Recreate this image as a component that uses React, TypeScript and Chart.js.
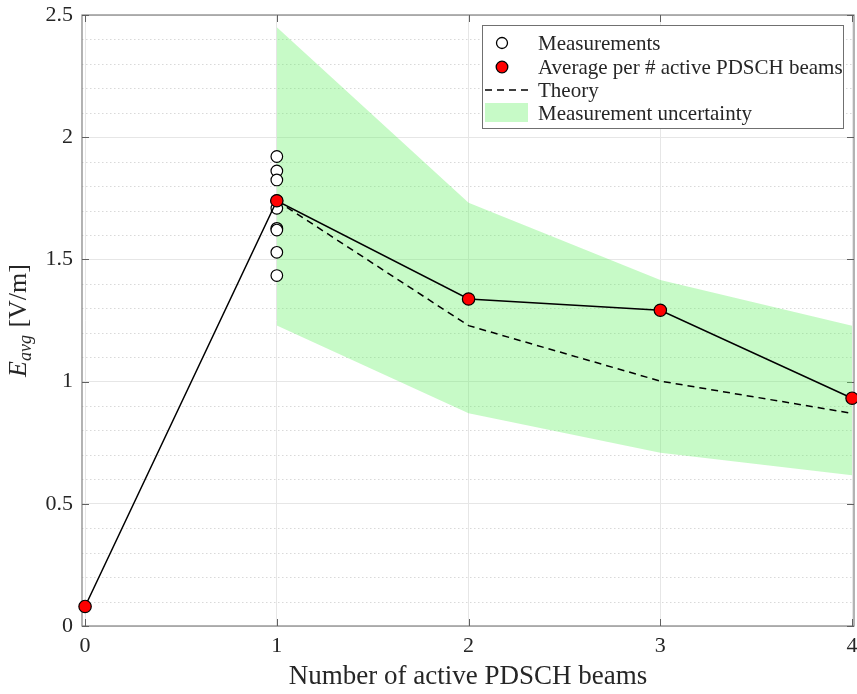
import React, { useEffect, useRef } from 'react';
import { Chart, registerables } from 'chart.js';

Chart.register(...registerables);

// ---- data ----
const beams = [0, 1, 2, 3, 4];
const avgY = [0.08, 1.74, 1.338, 1.292, 0.932];
const measX = [1, 1, 1, 1, 1, 1, 1, 1, 1];
const measY = [1.921, 1.862, 1.825, 1.74, 1.709, 1.627, 1.62, 1.529, 1.434];
const theoryX = [1, 2, 3, 4];
const theoryY = [1.74, 1.229, 1.002, 0.87];
const bandX = [1, 2, 3, 4];
const bandUpper = [2.45, 1.732, 1.416, 1.229];
const bandLower = [1.23, 0.871, 0.709, 0.617];
const xTicks = [0, 1, 2, 3, 4];
const yTicks = [0, 0.5, 1, 1.5, 2, 2.5];
const legendLabels = [
  'Measurements',
  'Average per # active PDSCH beams',
  'Theory',
  'Measurement uncertainty',
];
const xTitle = 'Number of active PDSCH beams';

const FONT = "'Liberation Serif', 'Times New Roman', serif";
const TEXT = '#262626';
const BAND = 'rgba(100,240,100,0.36)';

const decor = {
  id: 'decor',
  beforeDatasetsDraw(chart: any) {
    const { ctx, chartArea: a, scales } = chart;
    const x = scales.x;
    const y = scales.y;
    ctx.save();
    // minor dotted grid lines
    ctx.strokeStyle = '#d9d9d9';
    ctx.lineWidth = 1;
    ctx.setLineDash([1.5, 2.5]);
    for (let i = 1; i < 25; i++) {
      if (i % 5 === 0) continue;
      const py = Math.round(y.getPixelForValue(i / 10)) + 0.5;
      ctx.beginPath();
      ctx.moveTo(a.left, py);
      ctx.lineTo(a.right, py);
      ctx.stroke();
    }
    ctx.setLineDash([]);
    // axes box
    ctx.strokeStyle = '#808080';
    ctx.lineWidth = 1.2;
    ctx.strokeRect(a.left, a.top, a.right - a.left, a.bottom - a.top);
    // inward ticks
    ctx.strokeStyle = '#606060';
    ctx.lineWidth = 1;
    xTicks.forEach((v) => {
      const px = Math.round(x.getPixelForValue(v)) + 0.5;
      ctx.beginPath();
      ctx.moveTo(px, a.bottom);
      ctx.lineTo(px, a.bottom - 7);
      ctx.moveTo(px, a.top);
      ctx.lineTo(px, a.top + 7);
      ctx.stroke();
    });
    yTicks.forEach((v) => {
      const py = Math.round(y.getPixelForValue(v)) + 0.5;
      ctx.beginPath();
      ctx.moveTo(a.left, py);
      ctx.lineTo(a.left + 7, py);
      ctx.moveTo(a.right, py);
      ctx.lineTo(a.right - 7, py);
      ctx.stroke();
    });
    // x tick labels
    ctx.fillStyle = TEXT;
    ctx.font = `22px ${FONT}`;
    ctx.textAlign = 'center';
    ctx.textBaseline = 'top';
    xTicks.forEach((v) => {
      ctx.fillText(String(v), x.getPixelForValue(v), a.bottom + 9);
    });
    ctx.restore();
  },
  afterDraw(chart: any) {
    const { ctx, chartArea: a } = chart;
    ctx.save();
    // ---- legend ----
    const L = a.right - 11;
    const bx = 482;
    const by = a.top + 10;
    const bw = L - bx;
    const bh = 103;
    ctx.fillStyle = '#ffffff';
    ctx.fillRect(bx, by, bw, bh);
    ctx.strokeStyle = '#707070';
    ctx.lineWidth = 1;
    ctx.strokeRect(bx + 0.5, by + 0.5, bw, bh);
    const rows = [by + 18, by + 42, by + 65, by + 88];
    const mx = bx + 20;
    // measurements marker
    ctx.beginPath();
    ctx.arc(mx, rows[0], 5.5, 0, Math.PI * 2);
    ctx.fillStyle = '#fff';
    ctx.fill();
    ctx.strokeStyle = '#000';
    ctx.lineWidth = 1.3;
    ctx.stroke();
    // average marker
    ctx.beginPath();
    ctx.arc(mx, rows[1], 5.8, 0, Math.PI * 2);
    ctx.fillStyle = '#ff0000';
    ctx.fill();
    ctx.stroke();
    // theory dash
    ctx.setLineDash([7, 5]);
    ctx.lineWidth = 1.5;
    ctx.beginPath();
    ctx.moveTo(bx + 3, rows[2]);
    ctx.lineTo(bx + 51, rows[2]);
    ctx.stroke();
    ctx.setLineDash([]);
    // band patch
    ctx.fillStyle = BAND;
    ctx.fillRect(bx + 3, rows[3] - 10, 43, 19);
    ctx.fillStyle = TEXT;
    ctx.font = `21px ${FONT}`;
    ctx.textBaseline = 'middle';
    ctx.textAlign = 'left';
    legendLabels.forEach((t, i) => ctx.fillText(t, bx + 56, rows[i] + 1));

    // ---- x title ----
    ctx.font = `27px ${FONT}`;
    ctx.textAlign = 'center';
    ctx.textBaseline = 'middle';
    ctx.fillText(xTitle, (a.left + a.right) / 2, 677);

    // ---- y title ----
    ctx.translate(17, (a.top + a.bottom) / 2);
    ctx.rotate(-Math.PI / 2);
    ctx.textAlign = 'left';
    ctx.textBaseline = 'alphabetic';
    const fE = `italic 26px ${FONT}`;
    const fSub = `italic 18px ${FONT}`;
    const fR = `26px ${FONT}`;
    ctx.font = fE;
    const wE = ctx.measureText('E').width;
    ctx.font = fSub;
    const wS = ctx.measureText('avg').width;
    ctx.font = fR;
    const rest = ' [V/m]';
    const wR = ctx.measureText(rest).width;
    const total = wE + wS + 1 + wR;
    let cx = -total / 2;
    const base = 9;
    ctx.font = fE;
    ctx.fillText('E', cx, base);
    cx += wE;
    ctx.font = fSub;
    ctx.fillText('avg', cx, base + 5);
    cx += wS + 1;
    ctx.font = fR;
    ctx.fillText(rest, cx, base);
    ctx.restore();
  },
};

export default function App() {
  const ref = useRef<HTMLCanvasElement>(null);
  useEffect(() => {
    if (!ref.current) return;
    const chart = new Chart(ref.current, {
      type: 'scatter',
      data: {
        datasets: [
          {
            label: 'Average per # active PDSCH beams',
            data: beams.map((b, i) => ({ x: b, y: avgY[i] })),
            showLine: true,
            borderColor: '#000',
            borderWidth: 1.5,
            pointBackgroundColor: '#ff0000',
            pointBorderColor: '#000',
            pointBorderWidth: 1.2,
            pointRadius: 6.2,
            clip: false,
          },
          {
            label: 'Theory',
            data: theoryX.map((b, i) => ({ x: b, y: theoryY[i] })),
            showLine: true,
            borderColor: '#000',
            borderWidth: 1.5,
            borderDash: [7, 5],
            pointRadius: 0,
          },
          {
            label: 'Measurements',
            data: measX.map((b, i) => ({ x: b, y: measY[i] })),
            showLine: false,
            pointBackgroundColor: '#ffffff',
            pointBorderColor: '#000',
            pointBorderWidth: 1.2,
            pointRadius: 5.8,
            clip: false,
          },
          {
            label: 'lower',
            data: bandX.map((b, i) => ({ x: b, y: bandLower[i] })),
            showLine: true,
            borderColor: 'transparent',
            pointRadius: 0,
            fill: false,
          },
          {
            label: 'Measurement uncertainty',
            data: bandX.map((b, i) => ({ x: b, y: bandUpper[i] })),
            showLine: true,
            borderColor: 'transparent',
            backgroundColor: BAND,
            pointRadius: 0,
            fill: '-1',
          },
        ],
      },
      options: {
        animation: false,
        responsive: false,
        maintainAspectRatio: false,
        layout: { autoPadding: false, padding: { top: 15, right: 3, left: 0, bottom: 0 } },
        plugins: {
          legend: { display: false },
          tooltip: { enabled: false },
        },
        scales: {
          x: {
            type: 'linear',
            min: -0.016,
            max: 4.01,
            afterBuildTicks: (s: any) => {
              s.ticks = xTicks.map((v) => ({ value: v }));
            },
            afterFit: (s: any) => {
              s.height = 68;
            },
            grid: { color: '#e6e6e6', drawTicks: false, lineWidth: 1 },
            border: { display: false },
            ticks: { display: false },
          },
          y: {
            type: 'linear',
            min: 0,
            max: 2.5,
            afterBuildTicks: (s: any) => {
              s.ticks = yTicks.map((v) => ({ value: v }));
            },
            afterFit: (s: any) => {
              s.width = 82;
              s.paddingTop = 0;
              s.paddingBottom = 0;
            },
            grid: { color: '#e6e6e6', drawTicks: false, lineWidth: 1 },
            border: { display: false },
            ticks: {
              padding: 9,
              color: TEXT,
              font: { family: FONT, size: 22 },
              callback: (v: any) => String(v),
            },
          },
        },
      },
      plugins: [decor],
    });
    return () => chart.destroy();
  }, []);
  return (
    <div style={{ position: 'fixed', left: 0, top: 0, width: 857, height: 694, background: '#fff' }}>
      <canvas ref={ref} width={857} height={694} style={{ width: 857, height: 694 }} />
    </div>
  );
}
